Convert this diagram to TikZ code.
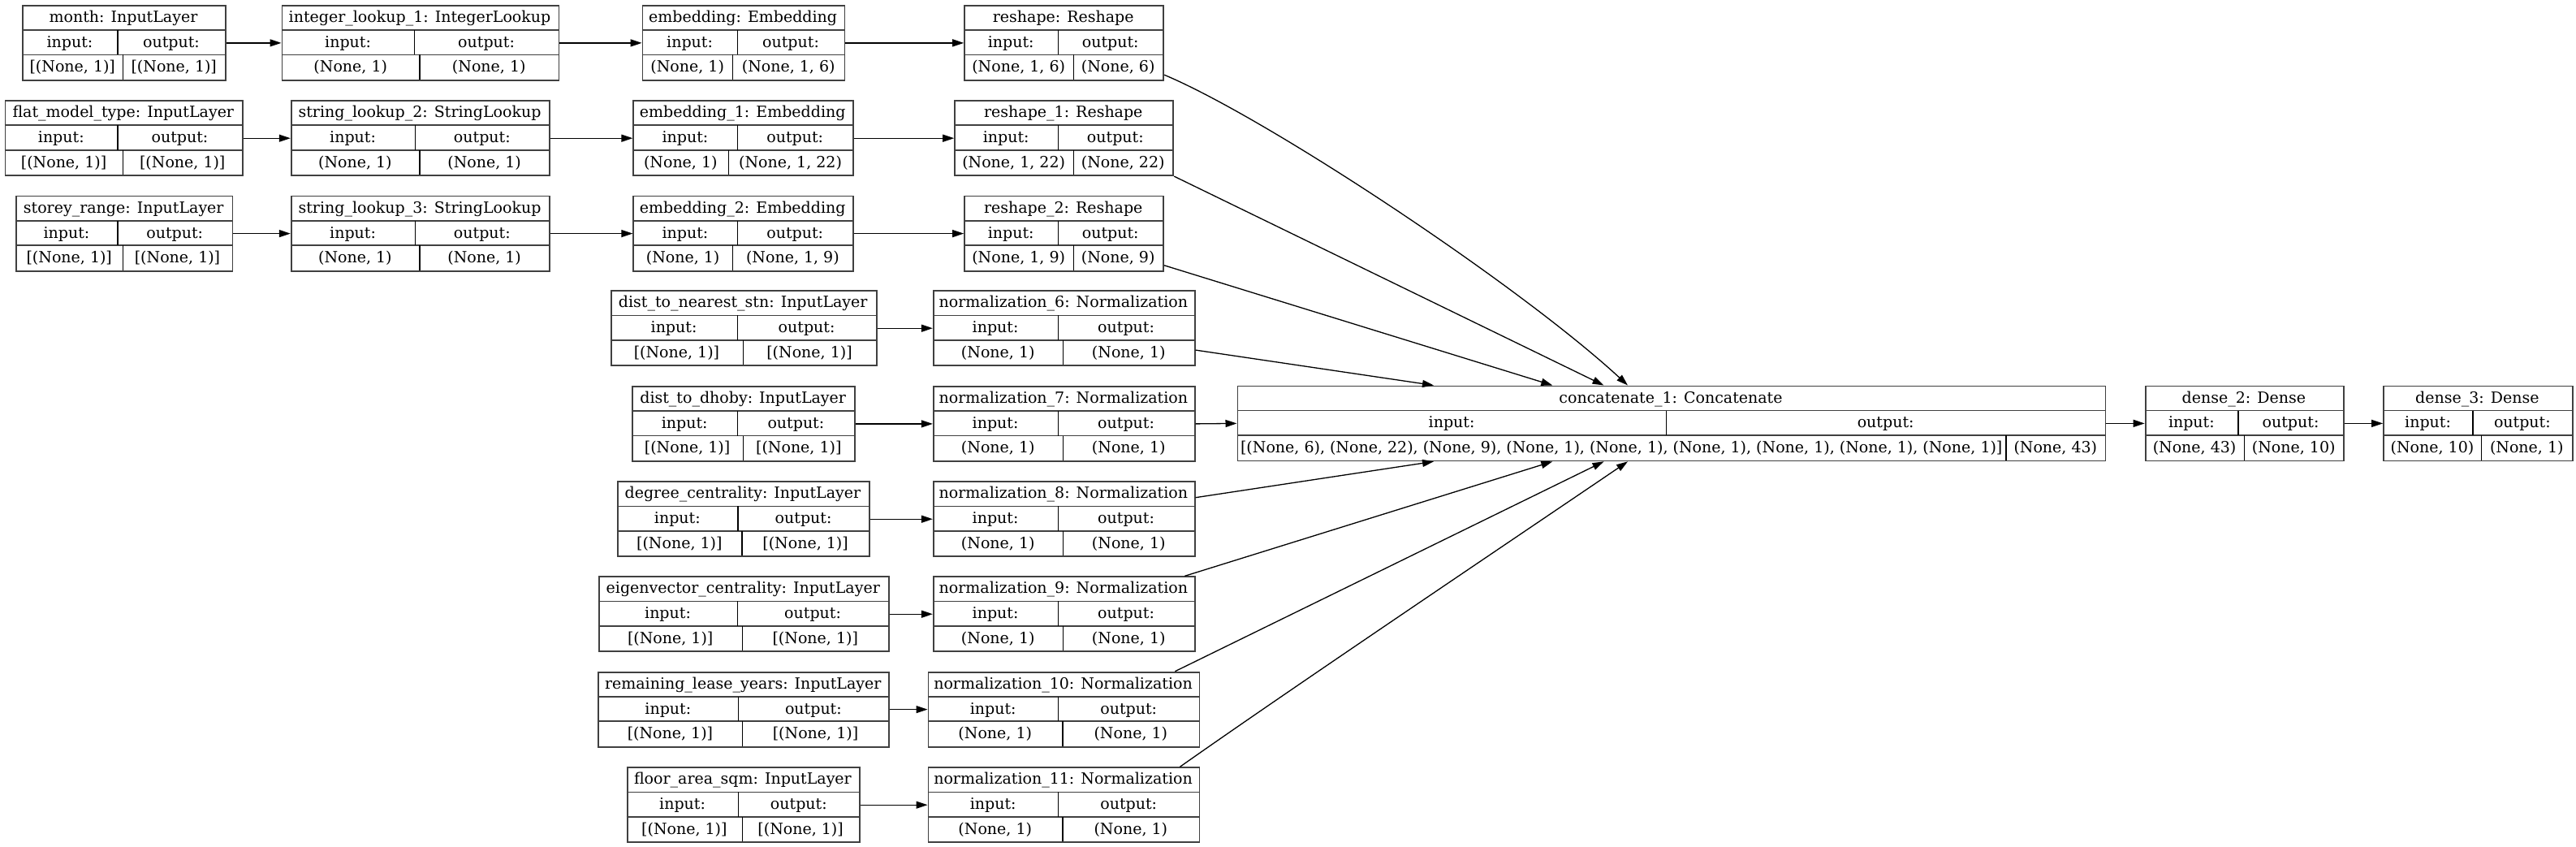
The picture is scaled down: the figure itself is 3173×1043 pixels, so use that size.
\documentclass[tikz,border=0pt]{standalone}
\usepackage{fontspec}
\setmainfont{DejaVu Serif}
\usetikzlibrary{arrows.meta,calc}

\tikzset{
  lbox/.style={draw=black!75, line width=1.8pt, inner sep=0pt, minimum height=92pt, fill=none},
  hrule/.style={draw=black!75, line width=1.6pt},
  vrule/.style={draw=black, line width=1.1pt},
  ltext/.style={inner sep=0pt, text height=14pt, text depth=2pt, font=\fontsize{19pt}{23pt}\selectfont},
  edge/.style={draw=black, line width=1.3pt, -{Triangle[length=14pt,width=9pt]}},
}

\newcommand\layerbox[9]{%
  \node[lbox, minimum width={#3pt-#2pt}, anchor=north west] (#1) at (#2,#4) {};
  \draw[hrule] (#2,{#4+31}) -- (#3,{#4+31});
  \draw[hrule] (#2,{#4+61.5}) -- (#3,{#4+61.5});
  \draw[vrule] (#5,{#4+31}) -- (#5,{#4+61.5});
  \draw[vrule] (#6,{#4+61.5}) -- (#6,{#4+92});
  \node[ltext] (#1-t) at ({(#2+#3)/2},{#4+15.5}) {#7};
  \node[ltext] (#1-i) at ({(#2+#5)/2},{#4+46.3}) {input:};
  \node[ltext] (#1-o) at ({(#5+#3)/2},{#4+46.3}) {output:};
  \node[ltext] (#1-a) at ({(#2+#6)/2},{#4+76.8}) {#8};
  \node[ltext] (#1-b) at ({(#6+#3)/2},{#4+76.8}) {#9};
}

\begin{document}
\begin{tikzpicture}[x=1pt,y=-1pt]
\useasboundingbox (0,0) rectangle (3173,1043);

\layerbox{month}{27}{277}{6}{145}{151.5}{month: InputLayer}{[(None, 1)]}{[(None, 1)]}
\layerbox{il1}{346.5}{687.5}{6}{510.7}{517}{integer\_lookup\_1: IntegerLookup}{(None, 1)}{(None, 1)}
\layerbox{emb}{790.6}{1039.6}{6}{908.5}{902.8}{embedding: Embedding}{(None, 1)}{(None, 1, 6)}
\layerbox{rs}{1187.2}{1432.3}{6}{1303.2}{1322.1}{reshape: Reshape}{(None, 1, 6)}{(None, 6)}

\layerbox{flat}{5.6}{298}{123.3}{145}{151.5}{flat\_model\_type: InputLayer}{[(None, 1)]}{[(None, 1)]}
\layerbox{sl2}{357.8}{676.3}{123.3}{511.4}{517}{string\_lookup\_2: StringLookup}{(None, 1)}{(None, 1)}
\layerbox{emb1}{779.4}{1050}{123.3}{908.5}{897.2}{embedding\_1: Embedding}{(None, 1)}{(None, 1, 22)}
\layerbox{rs1}{1175.2}{1444.4}{123.3}{1303.2}{1322.1}{reshape\_1: Reshape}{(None, 1, 22)}{(None, 22)}

\layerbox{storey}{19}{285.5}{240.7}{145}{151.5}{storey\_range: InputLayer}{[(None, 1)]}{[(None, 1)]}
\layerbox{sl3}{357.8}{676.3}{240.7}{511.4}{517}{string\_lookup\_3: StringLookup}{(None, 1)}{(None, 1)}
\layerbox{emb2}{779.4}{1050}{240.7}{908.5}{902.8}{embedding\_2: Embedding}{(None, 1)}{(None, 1, 9)}
\layerbox{rs2}{1187.2}{1432.3}{240.7}{1303.2}{1322.1}{reshape\_2: Reshape}{(None, 1, 9)}{(None, 9)}

\layerbox{dns}{751.7}{1078.8}{357.3}{908.4}{915.2}{dist\_to\_nearest\_stn: InputLayer}{[(None, 1)]}{[(None, 1)]}
\layerbox{n6}{1148.9}{1470.9}{357.3}{1303.3}{1309.6}{normalization\_6: Normalization}{(None, 1)}{(None, 1)}

\layerbox{dhoby}{778}{1052.4}{475}{908.4}{915.2}{dist\_to\_dhoby: InputLayer}{[(None, 1)]}{[(None, 1)]}
\layerbox{n7}{1148.9}{1470.9}{475}{1303.3}{1309.6}{normalization\_7: Normalization}{(None, 1)}{(None, 1)}
\layerbox{cat}{1523.5}{2592.6}{474.5}{2052.7}{2471}{concatenate\_1: Concatenate}{[(None, 6), (None, 22), (None, 9), (None, 1), (None, 1), (None, 1), (None, 1), (None, 1), (None, 1)]}{(None, 43)}
\layerbox{d2}{2641.7}{2886}{474.5}{2757}{2764.4}{dense\_2: Dense}{(None, 43)}{(None, 10)}
\layerbox{d3}{2935.1}{3167.7}{474.5}{3046}{3056.8}{dense\_3: Dense}{(None, 10)}{(None, 1)}

\layerbox{deg}{759.7}{1070.2}{592.3}{909}{914}{degree\_centrality: InputLayer}{[(None, 1)]}{[(None, 1)]}
\layerbox{n8}{1148.9}{1470.9}{592.3}{1303.3}{1309.6}{normalization\_8: Normalization}{(None, 1)}{(None, 1)}

\layerbox{eig}{736.7}{1093.8}{709.3}{908.4}{914.7}{eigenvector\_centrality: InputLayer}{[(None, 1)]}{[(None, 1)]}
\layerbox{n9}{1148.9}{1470.9}{709.3}{1303.3}{1309.6}{normalization\_9: Normalization}{(None, 1)}{(None, 1)}

\layerbox{rly}{736.2}{1094.3}{826.7}{909.5}{914.7}{remaining\_lease\_years: InputLayer}{[(None, 1)]}{[(None, 1)]}
\layerbox{n10}{1142.5}{1476.6}{826.7}{1303.8}{1309}{normalization\_10: Normalization}{(None, 1)}{(None, 1)}

\layerbox{fas}{771.7}{1058.2}{944.3}{909.5}{914.1}{floor\_area\_sqm: InputLayer}{[(None, 1)]}{[(None, 1)]}
\layerbox{n11}{1142.5}{1476.6}{944.3}{1303.8}{1309}{normalization\_11: Normalization}{(None, 1)}{(None, 1)}

% horizontal edges
\draw[edge] (month.east) -- (il1.west);
\draw[edge] (il1.east) -- (emb.west);
\draw[edge] (emb.east) -- (rs.west);
\draw[edge] (flat.east) -- (sl2.west);
\draw[edge] (sl2.east) -- (emb1.west);
\draw[edge] (emb1.east) -- (rs1.west);
\draw[edge] (storey.east) -- (sl3.west);
\draw[edge] (sl3.east) -- (emb2.west);
\draw[edge] (emb2.east) -- (rs2.west);
\draw[edge] (dns.east) -- (n6.west);
\draw[edge] (dhoby.east) -- (n7.west);
\draw[edge] (deg.east) -- (n8.west);
\draw[edge] (eig.east) -- (n9.west);
\draw[edge] (rly.east) -- (n10.west);
\draw[edge] (fas.east) -- (n11.west);
\draw[edge] (n7.east) -- (cat.west);
\draw[edge] (cat.east) -- (d2.west);
\draw[edge] (d2.east) -- (d3.west);

% edges into concatenate
\draw[edge] ($(rs.south east)+(0,-7.6)$) .. controls (1560,145) and (1870,350) .. ($(cat.north west)+(481.5,0)$);
\draw[edge] (rs1.south east) -- ($(cat.north west)+(452,0)$);
\draw[edge] ($(rs2.south east)+(0,-7.7)$) -- ($(cat.north west)+(388.8,0)$);
\draw[edge] ($(n6.south east)+(0,-20)$) -- ($(cat.north west)+(242.5,0)$);
\draw[edge] ($(n8.north east)+(0,20.4)$) -- ($(cat.south west)+(242.5,0)$);
\draw[edge] ($(n9.north east)+(-13.3,0)$) -- ($(cat.south west)+(388.8,0)$);
\draw[edge] ($(n10.north east)+(-31,0)$) -- ($(cat.south west)+(452,0)$);
\draw[edge] ($(n11.north east)+(-25,0)$) .. controls (1590,848) and (1870,660) .. ($(cat.south west)+(481.5,0)$);
\end{tikzpicture}
\end{document}
